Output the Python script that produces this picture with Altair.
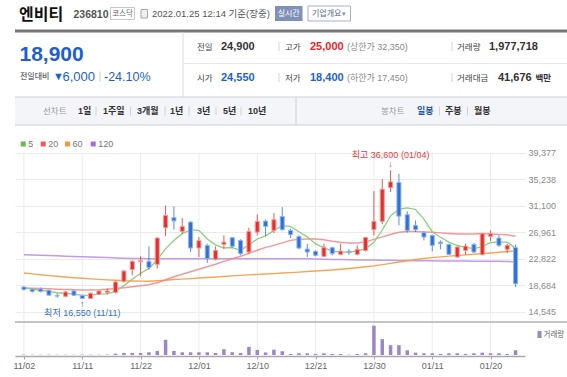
import json
import altair as alt
import pandas as pd

# ---------------- data ----------------
DATES = ["11/02","11/03","11/04","11/05","11/08","11/09","11/10","11/11","11/12","11/15",
         "11/16","11/17","11/18","11/19","11/22","11/23","11/24","11/25","11/26","11/29","11/30",
         "12/01","12/02","12/03","12/06","12/07","12/08","12/09","12/10","12/13","12/14",
         "12/15","12/16","12/17","12/20","12/21","12/22","12/23","12/24","12/27","12/28","12/29","12/30",
         "01/03","01/04","01/05","01/06","01/07","01/10","01/11","01/12","01/13","01/14",
         "01/17","01/18","01/19","01/20","01/21","01/24","01/25"]
OPEN = [18400,18050,18100,17900,17050,16950,17780,17070,16600,17270,17530,17550,19290,21110,22350,
        22400,21930,27640,29220,27070,28520,24470,24890,22710,25050,26090,25670,23850,26960,28670,
        27220,29400,27220,26290,24320,23960,23180,24530,23490,23960,23490,24070,27330,28630,33900,
        34690,29670,28010,26870,26450,25400,25050,23070,24110,25050,23440,26290,26030,24270,24550]
HIGH = [18560,18150,18300,17950,17400,17780,17900,17220,17530,17900,18200,19350,21050,22560,23180,
        24750,26180,31120,30960,29140,28670,26180,25150,24740,26450,26180,25830,27640,29720,28940,
        29920,30860,27490,26450,25150,24110,25150,24700,25150,24310,24890,26180,33340,35200,36600,
        36050,30200,28780,27070,26560,25670,25150,24780,25150,25250,26810,27220,26450,25150,25000]
LOW = [17850,17530,17550,17100,16750,16800,17000,16550,16600,17200,17250,17380,19090,20220,20070,
       21100,21270,26340,27340,26710,23850,23070,22140,22560,24380,24530,23340,23600,26450,26340,
       26810,27220,26030,24270,23070,23180,23070,23340,23340,23440,23340,23960,26440,28200,33200,
       28010,26870,26960,25670,23960,24270,23390,22980,23440,23700,23340,25570,24630,23700,18400]
CLOSE = [18000,17700,17700,17120,16980,17620,17100,16600,17420,17780,17780,19180,20890,22400,22500,
         21450,26030,29560,28700,27850,24470,25620,22820,24110,25400,24740,23600,27070,28630,27850,
         28890,27330,26550,24470,23850,23340,24530,23600,24000,23760,24270,26130,28630,33650,34800,
         29450,27220,27340,26180,24890,25150,23490,24630,24780,23850,26710,26710,24890,24900,18900]
VOLUME = [150000,120000,110000,130000,100000,120000,110000,140000,130000,120000,160000,
          550000,850000,850000,850000,1130000,1700000,6300000,1700000,1130000,1130000,
          1130000,1130000,850000,2400000,1130000,850000,3370000,2100000,1050000,2230000,
          1560000,420000,710000,710000,420000,710000,420000,420000,130000,420000,
          710000,12200000,6600000,4080000,4080000,1980000,970000,710000,710000,420000,
          710000,710000,420000,710000,970000,710000,710000,420000,1977718]
MA5 = [18300,18050,17890,17730,17500,17420,17300,17080,17140,17300,17340,17750,18610,19610,20550,
       21280,22650,24390,25650,26720,27320,27240,25890,24970,24480,24540,24130,24980,25890,26380,
       27210,27950,27850,27020,26220,25110,24550,23960,23860,23850,24030,24350,25360,27290,29500,
       30530,30750,30490,29000,27020,26160,25410,24870,24590,24380,24690,25340,25390,25410,24420]
MA20 = [18250,18200,18160,18110,18050,18000,17970,17940,17940,17970,18050,18160,18280,18440,18590,
        18750,19060,19520,19990,20380,20770,21160,21550,21940,22400,22790,23180,23650,24120,24580,
        24890,25280,25670,25830,25900,25900,25750,25520,25360,25280,25280,25440,25830,26220,26600,
        26920,27070,27070,26990,26920,26840,26760,26680,26680,26680,26760,26680,26600,26530,26330]
MA60 = [20580,20440,20300,20180,20070,19960,19850,19760,19670,19590,19510,19450,19380,19340,19310,
        19290,19370,19450,19560,19630,19710,19800,19880,19960,20040,20130,20210,20290,20360,20430,
        20490,20570,20640,20720,20820,20890,20970,21060,21170,21280,21410,21550,21700,21890,22090,
        22290,22500,22680,22840,22980,23100,23210,23320,23410,23510,23600,23710,23820,23930,24020]
MA120 = [23440,23400,23350,23300,23260,23210,23160,23120,23070,23020,22980,22930,22880,22850,22830,
         22820,22820,22820,22820,22820,22820,22820,22820,22820,22820,22820,22820,22820,22820,22820,
         22820,22820,22820,22810,22790,22760,22730,22700,22670,22640,22620,22600,22590,22570,22560,
         22540,22530,22510,22500,22490,22470,22460,22450,22440,22430,22420,22410,22400,22390,22290]
MA_PERIODS = [5, 20, 60, 120]
AXIS_DATES = ["11/02","11/11","11/22","12/01","12/10","12/21","12/30","01/11","01/20"]
PRICE_TICKS = [14545, 18684, 22822, 26961, 31100, 35238, 39377]

NAME = "엔비티"
CODE = "236810"
MARKET = "코스닥"
STAMP = "2022.01.25 12:14 기준(장중)"
PRICE = "18,900"
CHANGE = "6,000"
CHANGE_PCT = "-24.10%"
ROW1 = [("전일", "24,900", "#333333"), ("고가", "25,000", "#f01e1e"), ("거래량", "1,977,718", "#333333")]
ROW2 = [("시가", "24,550", "#1b5fd2"), ("저가", "18,400", "#1b5fd2"), ("거래대금", "41,676", "#333333")]
UNIT = "백만"
LIMITS = ["(상한가 32,350)", "(하한가 17,450)"]
TABS_LEFT = ["1일", "1주일", "3개월", "1년", "3년", "5년", "10년"]
TABS_RIGHT = ["일봉", "주봉", "월봉"]

# ---------------- style / layout ----------------
FONT = "Liberation Sans, Noto Sans CJK KR, sans-serif"
KFONT = "Noto Sans CJK KR, Liberation Sans, sans-serif"
RED, BLUE = "#e42f2c", "#2f70d8"
RED_L, BLUE_L = "#f09a98", "#8fb4ec"
NUM_BLUE = "#1b5fd2"
MA_COLORS = ["#62bd4f", "#ec5a5a", "#f39a3a", "#a86ad6"]
VOL_COLOR = "#9b86c8"
OX = 15            # left padding
W, H = 510, 356    # plot area

X0, DX = 19 - OX, 8.5
x_scale = alt.Scale(domain=[-X0 / DX, (W - X0) / DX], nice=False, zero=False)
AXIS_IDX = [DATES.index(d) for d in AXIS_DATES]
x_axis = alt.Axis(values=AXIS_IDX, labelExpr=f"{json.dumps(DATES)}[datum.value]", grid=False,
                  domain=True, domainColor="#a9a9a9", domainWidth=1.5, ticks=True, tickSize=3,
                  tickColor="#a9a9a9", labelFont=FONT, labelFontSize=9, labelColor="#666666",
                  labelPadding=2, title=None, labelFlush=False)

YT, YB = 152.5, 311.7
k = (PRICE_TICKS[-1] - PRICE_TICKS[0]) / (YB - YT)
price_scale = alt.Scale(domain=[PRICE_TICKS[0] - (H - YB) * k, PRICE_TICKS[-1] + YT * k], nice=False, zero=False)
y_axis = alt.Axis(orient="right", values=PRICE_TICKS, format=",d", grid=True, gridColor="#ebebeb",
                  domain=False, ticks=False, tickSize=0, labelPadding=3, labelFont=FONT,
                  labelFontSize=9, labelColor="#8a8a8a", labelOverlap=False, title=None)

VB, VT, VTOP = 355.0, 323.0, 13300000
kv = VTOP / (VB - VT)
vol_scale = alt.Scale(domain=[-(H - VB) * kv, VB * kv], nice=False, zero=False)


def PX():
    return alt.X("i:Q", scale=x_scale, axis=x_axis)


def PY(f):
    return alt.Y(f, type="quantitative", scale=price_scale, axis=y_axis)


df = pd.DataFrame({"i": range(len(DATES)), "date": DATES, "open": OPEN, "high": HIGH, "low": LOW,
                   "close": CLOSE, "vol": VOLUME, "ma5": MA5, "ma20": MA20, "ma60": MA60, "ma120": MA120})
df["dir"] = ["up" if c >= o else "down" for o, c in zip(OPEN, CLOSE)]
df["zero"] = 0

ONE = pd.DataFrame({"k": [0]})


def T(x, y, s, size=9, color="#333333", weight="normal", align="left", font=FONT):
    return alt.Chart(ONE).mark_text(align=align, baseline="middle", fontSize=size, font=font,
                                    fontWeight=weight, color=color).encode(
        x=alt.value(x - OX), y=alt.value(y), text=alt.value(s))


def R(x1, y1, x2, y2, fill="#ffffff", stroke=None, sw=1):
    kw = dict(fill=fill)
    if stroke:
        kw.update(stroke=stroke, strokeWidth=sw)
    return alt.Chart(ONE).mark_rect(**kw).encode(
        x=alt.value(x1 - OX), x2=alt.value(x2 - OX), y=alt.value(y1), y2=alt.value(y2))


def HL(y, x1, x2, color, w=1):
    return alt.Chart(ONE).mark_rule(color=color, strokeWidth=w).encode(
        x=alt.value(x1 - OX), x2=alt.value(x2 - OX), y=alt.value(y))


def VL(x, y1, y2, color, w=1):
    return alt.Chart(ONE).mark_rule(color=color, strokeWidth=w).encode(
        x=alt.value(x - OX), y=alt.value(y1), y2=alt.value(y2))


layers = []
# ---- title line ----
layers += [
    T(19, 14.5, NAME, 16, "#111111", "bold", font=KFONT),
    T(73.5, 14.5, CODE, 10.5, "#555555", "bold"),
    R(110.5, 7.5, 134.5, 19.5, "#ffffff", "#c6c6c6"),
    T(122.5, 13.5, MARKET, 7.5, "#666666", align="center", font=KFONT),
    R(141, 9.5, 147.5, 18, "#f0f0f0", "#a8a8a8"),
    T(152, 14, STAMP, 9.5, "#555555"),
    R(275, 6, 302.5, 21, "#8090b8"),
    T(288.7, 13.5, "실시간", 8, "#ffffff", align="center", font=KFONT),
    R(308, 6, 350.5, 21, "#ffffff", "#a6b0cf"),
    T(312, 13.5, "기업개요", 8, "#55679a", font=KFONT),
    T(344, 13.5, "▾", 7, "#7f8db0", align="center"),
    HL(31, 15, 567, "#777777", 3),
]
# ---- left price box ----
layers += [
    T(19.5, 54.5, PRICE, 21, NUM_BLUE, "bold"),
    T(20, 76.5, "전일대비", 8, "#333333", font=KFONT),
    T(53, 76.5, "▼", 11, NUM_BLUE),
    T(62.5, 76.5, CHANGE, 13, NUM_BLUE),
    VL(100, 71.5, 81.5, "#cccccc"),
    T(104, 76.5, CHANGE_PCT, 12.5, NUM_BLUE),
    VL(183, 32.5, 97, "#dcdcdc"),
    HL(63.5, 183, 567, "#e8e8e8"),
]
# ---- right info rows ----
COLS = [(197, 221), (285, 310), (457, 489)]
for r, (row, y, lim) in enumerate(((ROW1, 46.5, LIMITS[0]), (ROW2, 77.5, LIMITS[1]))):
    for j, ((lab, val, col), (xl, xv)) in enumerate(zip(row, COLS)):
        layers.append(T(xl, y, lab, 8.5, "#444444", font=KFONT))
        if r == 1 and j == 2:
            layers.append(T(498, y, val, 11, col, "bold"))
            layers.append(T(535.5, y, UNIT, 8.5, col, "bold", font=KFONT))
        else:
            layers.append(T(xv, y, val, 11, col, "bold"))
    layers.append(T(347, y, lim, 9, "#8a8a8a"))
    layers.append(VL(279, y - 4.5, y + 4.5, "#d5d5d5"))
    layers.append(VL(452, y - 4.5, y + 4.5, "#d5d5d5"))
# ---- tab bar ----
layers += [
    R(15, 97, 567, 125, "#f4f5f8"),
    HL(97, 15, 567, "#cfcfcf"),
    HL(125, 15, 567, "#cfcfcf"),
    VL(296, 97, 125, "#d0d0d0"),
    T(43, 111, "선차트", 8.5, "#999999", font=KFONT),
    T(381, 111, "봉차트", 8.5, "#999999", font=KFONT),
]
TAB_LX = [78, 103, 137, 170, 197, 223, 248]
TAB_SEP = [96, 130.5, 165, 189, 216, 241]
for s, x in zip(TABS_LEFT, TAB_LX):
    layers.append(T(x, 111, s, 9, "#333333", "bold"))
for x in TAB_SEP:
    layers.append(VL(x, 106.5, 115.5, "#d3d3d3"))
TAB_RX = [417, 445, 474]
for j, (s, x) in enumerate(zip(TABS_RIGHT, TAB_RX)):
    layers.append(T(x, 111, s, 9, "#2a55b5" if j == 0 else "#333333", "bold"))
for x in (439.5, 467.5):
    layers.append(VL(x, 106.5, 115.5, "#d3d3d3"))
# ---- MA legend ----
LEG_X = [20.7, 40.7, 65, 90.7]
for p, c, x in zip(MA_PERIODS, MA_COLORS, LEG_X):
    layers.append(R(x, 141.5, x + 5, 146.5, c))
    layers.append(T(x + 7.5, 144.2, str(p), 9, "#777777"))

# ---- price panel ----
dir_color = alt.Color("dir:N", scale=alt.Scale(domain=["up", "down"], range=[RED, BLUE]), legend=None)
dir_stroke = alt.Stroke("dir:N", scale=alt.Scale(domain=["up", "down"], range=[RED_L, BLUE_L]), legend=None)

vgrid = alt.Chart(pd.DataFrame({"i": AXIS_IDX})).mark_rule(color="#ebebeb").encode(
    x=PX(), y=alt.value(YT), y2=alt.value(H))
ma_layers = []
for f, c, w, o in (("ma120", "#b88ae2", 1.5, 0.85), ("ma60", "#f5a04c", 1.4, 0.95),
                   ("ma20", "#ef8787", 1.5, 0.85), ("ma5", "#86cc74", 1.3, 0.95)):
    ma_layers.append(alt.Chart(df).mark_line(color=c, strokeWidth=w, opacity=o).encode(x=PX(), y=PY(f)))
wicks = alt.Chart(df).mark_rule(strokeWidth=1, opacity=0.8).encode(
    x=PX(), y=PY("low"), y2="high:Q", color=dir_color)
bodies = alt.Chart(df).mark_bar(size=4, strokeWidth=1).encode(
    x=PX(), y=PY("open"), y2="close:Q", color=dir_color, stroke=dir_stroke)

hi_i = HIGH.index(max(HIGH))
lo_i = LOW.index(min(LOW))
ann = pd.DataFrame({"i": [hi_i, lo_i], "p": [HIGH[hi_i], LOW[lo_i]],
                    "t": [f"최고 {HIGH[hi_i]:,} ({DATES[hi_i]})", f"최저 {LOW[lo_i]:,} ({DATES[lo_i]})"]})
ann_hi = alt.Chart(ann.iloc[[0]]).mark_text(dy=-15, fontSize=9, font=FONT, color="#e83b3b").encode(
    x=PX(), y=PY("p"), text="t:N")
arr_hi = alt.Chart(ann.iloc[[0]]).mark_text(text="↓", dy=-6, fontSize=9, font=FONT, color="#e83b3b").encode(
    x=PX(), y=PY("p"))
ann_lo = alt.Chart(ann.iloc[[1]]).mark_text(dy=14, fontSize=9, font=FONT, color="#2f70d8").encode(
    x=PX(), y=PY("p"), text="t:N")
arr_lo = alt.Chart(ann.iloc[[1]]).mark_text(text="↑", dy=5, fontSize=9, font=FONT, color="#2f70d8").encode(
    x=PX(), y=PY("p"))

price_group = alt.layer(vgrid, *ma_layers, wicks, bodies, ann_hi, arr_hi, ann_lo, arr_lo)

vol = alt.Chart(df).mark_bar(size=3.5, color=VOL_COLOR).encode(
    x=PX(), y=alt.Y("vol:Q", scale=vol_scale, axis=None), y2="zero:Q")

overlay = [
    HL(322, 15, 567, "#c4c4c4", 2),
    R(537.5, 331, 541.5, 338, VOL_COLOR),
    T(543.5, 334.5, "거래량", 7.5, "#666666", font=KFONT),
]

chart = alt.layer(*layers, price_group, vol, *overlay).resolve_scale(y="independent").properties(
    width=W, height=H,
    padding={"left": OX, "top": 0, "right": 567 - OX - W, "bottom": 377 - H},
    autosize=alt.AutoSizeParams(type="none"),
    background="#ffffff",
).configure_view(stroke=None)

chart.save("out.html", embed_options={"renderer": "svg", "actions": False})
